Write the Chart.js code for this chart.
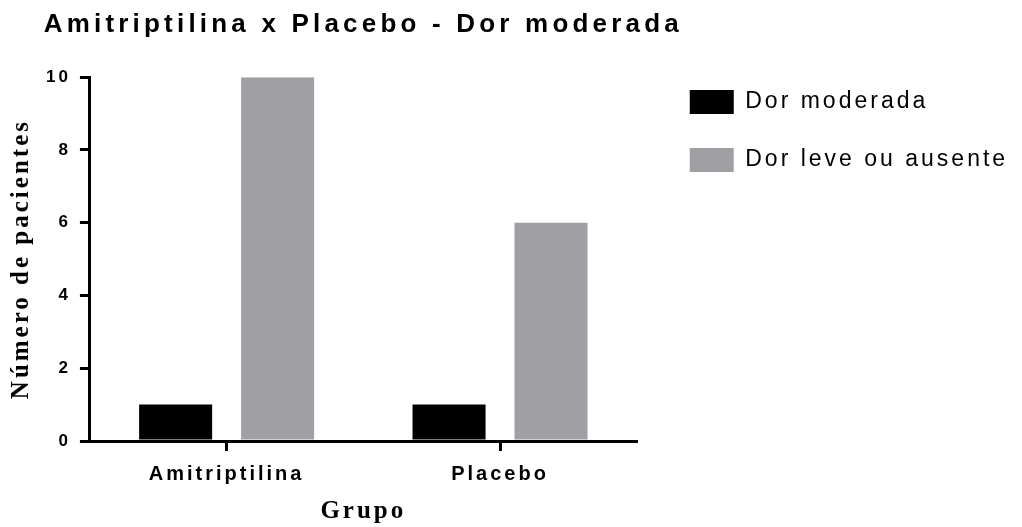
<!DOCTYPE html>
<html>
<head>
<meta charset="utf-8">
<title>Amitriptilina x Placebo - Dor moderada</title>
<script src="https://cdn.jsdelivr.net/npm/chart.js@4.4.0/dist/chart.umd.min.js"></script>
<style>
  html, body { margin: 0; padding: 0; background: #fff; }
  #wrap { width: 1022px; height: 527px; position: relative; }
</style>
</head>
<body>
<div id="wrap"><canvas id="chart"></canvas></div>
<script>
// values
const grupos = ['Amitriptilina', 'Placebo'];
const dorModerada = [1, 1];
const dorLeve = [10, 6];
const yTicks = [0, 2, 4, 6, 8, 10];

const SANS = '"Liberation Sans", Arial, sans-serif';
const SERIF = '"Liberation Serif", "Times New Roman", serif';

// prism exports use spaced-out lettering; canvas only has ctx.letterSpacing,
// so hook the font setter and put the spacing on every time chart.js sets a font
const canvas = document.getElementById('chart');
const ctx2d = canvas.getContext('2d');
const fontProp = Object.getOwnPropertyDescriptor(CanvasRenderingContext2D.prototype, 'font');
Object.defineProperty(ctx2d, 'font', {
  get(){ return fontProp.get.call(this); },
  set(v){
    fontProp.set.call(this, v);
    this.letterSpacing = /\b26px/.test(v) ? '4.2px' : '3px'; // title gets wider spacing
  }
});

// chart.js squeezes the title into the plot width and clips the legend to its box,
// so widen both after layout (title stays centred over the plot)
const fixBoxes = {
  id: 'fixBoxes',
  afterLayout(chart){
    const a = chart.chartArea;
    const t = chart.titleBlock;
    const mid = (a.left + a.right) / 2;
    t.left = mid - 340; t.right = mid + 340; t.width = 680;

    const l = chart.legend;
    l.left += 19; l.right = chart.width; l.width = l.right - l.left;
    l.top += 56; l.bottom += 56;
  }
};

const axisCommon = {
  border: { color: '#000', width: 3 },
  grid: { drawOnChartArea: false, color: '#000', tickColor: '#000', tickLength: 10, tickWidth: 3, lineWidth: 3, offset: false },
  title: { display: true, color: '#000', font: { family: SERIF, size: 25, weight: 'bold' } }
};

const chart = new Chart(ctx2d, {
  type: 'bar',
  data: {
    labels: grupos,
    datasets: [
      { label: 'Dor moderada', data: dorModerada, backgroundColor: '#000000' },
      { label: 'Dor leve ou ausente', data: dorLeve, backgroundColor: '#a0a0a4' }
    ]
  },
  options: {
    responsive: true,
    maintainAspectRatio: false,
    animation: false,
    datasets: { bar: { categoryPercentage: 0.746, barPercentage: 0.716, borderWidth: 0 } },
    layout: { padding: { left: 0, right: 173, top: 0, bottom: 0 } },
    plugins: {
      tooltip: { enabled: false },
      title: {
        display: true,
        text: 'Amitriptilina x Placebo - Dor moderada',
        fullSize: false,
        align: 'center',
        color: '#000',
        font: { family: SANS, size: 26, weight: 'bold' },
        padding: { top: 9, bottom: 37 }
      },
      legend: {
        position: 'right',
        align: 'start',
        labels: {
          boxWidth: 44, boxHeight: 24, padding: 34, color: '#000',
          font: { family: SANS, size: 23 }
        }
      }
    },
    scales: {
      x: {
        ...axisCommon,
        ticks: { color: '#000', padding: 11, font: { family: SANS, size: 20, weight: 'bold' } },
        title: { ...axisCommon.title, text: 'Grupo', padding: { top: 0, bottom: 0 } }
      },
      y: {
        ...axisCommon,
        min: 0, max: 10,
        afterBuildTicks: scale => { scale.ticks = yTicks.map(v => ({ value: v })); },
        ticks: { color: '#000', padding: 9, font: { family: SANS, size: 17, weight: 'bold' } },
        title: { ...axisCommon.title, text: 'Número de pacientes', padding: { top: 7, bottom: 0 } }
      }
    }
  },
  plugins: [fixBoxes]
});
</script>
</body>
</html>
